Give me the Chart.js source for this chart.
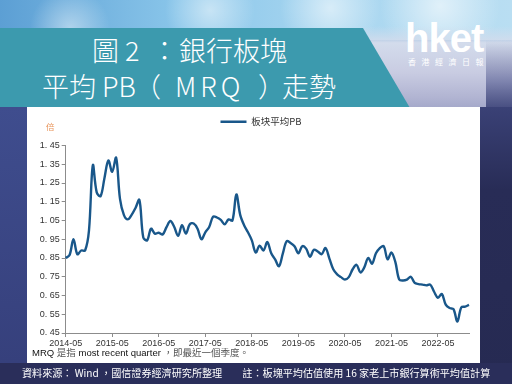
<!DOCTYPE html>
<html><head><meta charset="utf-8">
<script src="https://cdn.jsdelivr.net/npm/chart.js@4.4.0/dist/chart.umd.min.js"></script>
<style>
html,body{margin:0;padding:0;width:512px;height:384px;overflow:hidden;}
body{position:relative;font-family:"Noto Sans CJK TC","Noto Sans",sans-serif;
background:linear-gradient(180deg,#7fbde6 0px,#6aaadb 28px,#4a5a9c 110px,#3d4888 200px,#2f3569 300px,#262a55 384px);}
#sky{position:absolute;left:0;top:0;width:512px;height:40px;
background:radial-gradient(circle at 70px 28px,rgba(255,255,255,.45) 0,rgba(255,255,255,0) 40px),
radial-gradient(circle at 210px 10px,rgba(255,255,255,.5) 0,rgba(255,255,255,0) 45px),
radial-gradient(circle at 330px 8px,rgba(255,255,255,.55) 0,rgba(255,255,255,0) 50px),
radial-gradient(circle at 440px 6px,rgba(255,255,255,.6) 0,rgba(255,255,255,0) 60px),
linear-gradient(90deg,#5c9fd4 0,#8ac6ea 35%,#a8d6f0 65%,#b9def2 100%);}
#rightTop{position:absolute;left:360px;top:26px;width:152px;height:84px;
background:linear-gradient(180deg,rgba(205,224,242,0) 0,#d3dcec 20%,#c9cce2 55%,#b1b4d2 85%,#a2a6c8 100%);}
#rightFade{position:absolute;left:486px;top:40px;width:26px;height:70px;background:linear-gradient(180deg,rgba(70,78,135,0) 0,rgba(70,78,135,.55) 60%,rgba(58,65,118,.9) 100%);}
#banner{position:absolute;left:0;top:28px;width:410px;height:80px;background:#3c9aae;
clip-path:polygon(0 0,363px 0,410px 100%,0 100%);}
#leftStrip{position:absolute;left:0;top:107px;width:27px;height:256px;background:linear-gradient(180deg,#3f4d8e 0,#36407c 100%);}
#rightStrip{position:absolute;left:480px;top:107px;width:32px;height:277px;background:linear-gradient(180deg,#3a4176 0,#282c56 30%,#262a52 100%);}
#bottomStrip{position:absolute;left:0;top:363px;width:512px;height:21px;background:#2a2e5a;}
.t{position:absolute;color:#fff;font-weight:300;font-size:27px;line-height:30px;white-space:pre;}
#logo{position:absolute;left:405px;top:18px;font-family:"Liberation Sans",Arial,sans-serif;font-weight:bold;font-size:40px;line-height:40px;color:#fff;letter-spacing:-1px;}
#logoSub{position:absolute;left:408px;top:57px;font-size:8px;line-height:10px;color:#fff;letter-spacing:5.5px;white-space:pre;}
#panel{position:absolute;left:27px;top:107px;width:453px;height:256px;background:#fff;}
#chartBox{position:absolute;left:27px;top:107px;width:453px;height:248px;}
#unit{position:absolute;left:46px;top:120px;font-size:8.5px;line-height:12px;color:#e8945a;}
#note{position:absolute;left:32px;top:346px;font-size:9.5px;line-height:13px;color:#111;white-space:pre;font-family:"Liberation Sans",Arial,sans-serif;}
#note span{font-family:"Noto Sans CJK TC",sans-serif;color:#555;}
#source{position:absolute;left:22px;top:366px;font-size:10.1px;line-height:14px;color:#fff;white-space:pre;}
</style></head>
<body>
<div id="sky"></div>
<div id="rightTop"></div>
<div id="rightFade"></div>
<div id="banner"></div>
<div id="leftStrip"></div>
<div id="rightStrip"></div>
<div id="bottomStrip"></div>
<span class="t" style="top:35px;left:92px">圖</span>
<span class="t" style="top:35px;left:125px">2</span>
<span class="t" style="top:35px;left:151px">：</span>
<span class="t" style="top:35px;left:179px">銀行板塊</span>
<span class="t" style="top:71px;left:42px">平均</span>
<span class="t" style="top:71px;left:102px">PB</span>
<span class="t" style="top:71px;left:134px">（</span>
<span class="t" style="top:71px;left:175px;letter-spacing:4px">MRQ</span>
<span class="t" style="top:71px;left:258px">）</span>
<span class="t" style="top:71px;left:282px">走勢</span>
<div id="logo">hket</div>
<div id="logoSub">香港經濟日報</div>
<div id="panel"></div>
<div id="chartBox"><canvas id="c" width="453" height="248"></canvas></div>
<div id="unit">倍</div>
<div id="note">MRQ <span>是指</span> most recent quarter <span>，即最近一個季度。</span></div>
<div id="source">資料來源： Wind ，國信證券經濟研究所整理　　註：板塊平均估值使用 16 家老上市銀行算術平均值計算</div>
<script>
const seriesName = '板块平均PB';
const months = [
'2014-05','2014-06','2014-07','2014-08','2014-09','2014-10','2014-11','2014-12',
'2015-01','2015-02','2015-03','2015-04','2015-05','2015-06','2015-07','2015-08','2015-09','2015-10','2015-11','2015-12',
'2016-01','2016-02','2016-03','2016-04','2016-05','2016-06','2016-07','2016-08','2016-09','2016-10','2016-11','2016-12',
'2017-01','2017-02','2017-03','2017-04','2017-05','2017-06','2017-07','2017-08','2017-09','2017-10','2017-11','2017-12',
'2018-01','2018-02','2018-03','2018-04','2018-05','2018-06','2018-07','2018-08','2018-09','2018-10','2018-11','2018-12',
'2019-01','2019-02','2019-03','2019-04','2019-05','2019-06','2019-07','2019-08','2019-09','2019-10','2019-11','2019-12',
'2020-01','2020-02','2020-03','2020-04','2020-05','2020-06','2020-07','2020-08','2020-09','2020-10','2020-11','2020-12',
'2021-01','2021-02','2021-03','2021-04','2021-05','2021-06','2021-07','2021-08','2021-09','2021-10','2021-11','2021-12',
'2022-01','2022-02','2022-03','2022-04','2022-05','2022-06','2022-07','2022-08','2022-09','2022-10','2022-11','2022-12',
'2023-01'];
const pbValues = [
0.85,0.866,0.95,0.87,0.89,0.89,0.996,1.345,
1.20,1.18,1.277,1.37,1.31,1.385,1.165,1.08,1.056,1.08,1.117,1.16,
0.96,0.944,1.006,0.98,0.985,0.975,1.015,1.047,1.015,0.968,1.025,0.98,
1.03,1.034,1.006,0.95,0.987,1.015,1.07,1.066,1.053,1.03,1.056,1.05,
1.189,1.08,1.025,0.987,0.944,0.879,0.916,0.89,0.935,0.875,0.843,0.806,
0.875,0.94,0.93,0.913,0.875,0.913,0.90,0.857,0.894,0.885,0.87,0.903,
0.847,0.79,0.763,0.748,0.735,0.748,0.79,0.814,0.773,0.80,0.85,0.82,
0.875,0.903,0.913,0.843,0.879,0.829,0.735,0.73,0.735,0.75,0.717,0.711,
0.708,0.704,0.708,0.67,0.638,0.658,0.601,0.583,0.577,0.511,0.586,0.591,
0.60];
const xTickLabels = ['2014-05','2015-05','2016-05','2017-05','2018-05','2019-05','2020-05','2021-05','2022-05'];
const yTickValues = [0.45,0.55,0.65,0.75,0.85,0.95,1.05,1.15,1.25,1.35,1.45];
const yTickLabels = ['0. 45','0. 55','0. 65','0. 75','0. 85','0. 95','1. 05','1. 15','1. 25','1. 35','1. 45'];

const lineColor = '#19578a';
const axisColor = '#8c8c8c';
const tickFont = {family:'"Liberation Sans", Arial, sans-serif', size:9};

const legendSpacer = {
  id:'legendSpacer',
  beforeInit(chart){
    const lg = chart.legend;
    if (lg) {
      const orig = lg.fit.bind(lg);
      lg.fit = function(){ orig(); this.height += 9; };
    }
  },
  afterLayout(chart){
    const lg = chart.legend;
    if (lg) { lg.left += 13; lg.right += 13; }
  }
};

new Chart(document.getElementById('c'), {
  type:'line',
  data:{labels:months, datasets:[{label:seriesName, data:pbValues, borderColor:lineColor, backgroundColor:lineColor,
    borderWidth:2.4, pointRadius:0, tension:0.35, pointStyle:'line', fill:false}]},
  options:{
    responsive:false, animation:false,
    layout:{padding:{left:0,right:11,top:0,bottom:0}},
    plugins:{
      legend:{display:true, position:'top', align:'center',
        labels:{usePointStyle:true, pointStyle:'line', pointStyleWidth:26, padding:10, color:'#333',
          font:{family:'"Noto Sans CJK SC", sans-serif', size:9.5}}},
      tooltip:{enabled:false}
    },
    scales:{
      x:{type:'category', offset:false,
        grid:{drawOnChartArea:false, drawTicks:true, tickLength:4, color:axisColor},
        border:{color:axisColor, width:1},
        ticks:{autoSkip:false, maxRotation:0, minRotation:0, padding:1, color:'#333', font:tickFont,
          callback:(v)=>months[v]},
        afterBuildTicks:(s)=>{ s.ticks = s.ticks.filter(t=>xTickLabels.includes(months[t.value])); },
        afterFit:(s)=>{ s.height = 22; }
      },
      y:{type:'linear', min:0.45, max:1.45,
        grid:{drawOnChartArea:false, drawTicks:true, tickLength:4, color:axisColor},
        border:{color:axisColor, width:1},
        ticks:{padding:2, color:'#333', font:tickFont,
          callback:(v,i)=>yTickLabels[i]},
        afterBuildTicks:(s)=>{ s.ticks = yTickValues.map(v=>({value:v})); },
        afterFit:(s)=>{ s.width = 38.7; }
      }
    }
  },
  plugins:[legendSpacer]
});
</script>
</body></html>
